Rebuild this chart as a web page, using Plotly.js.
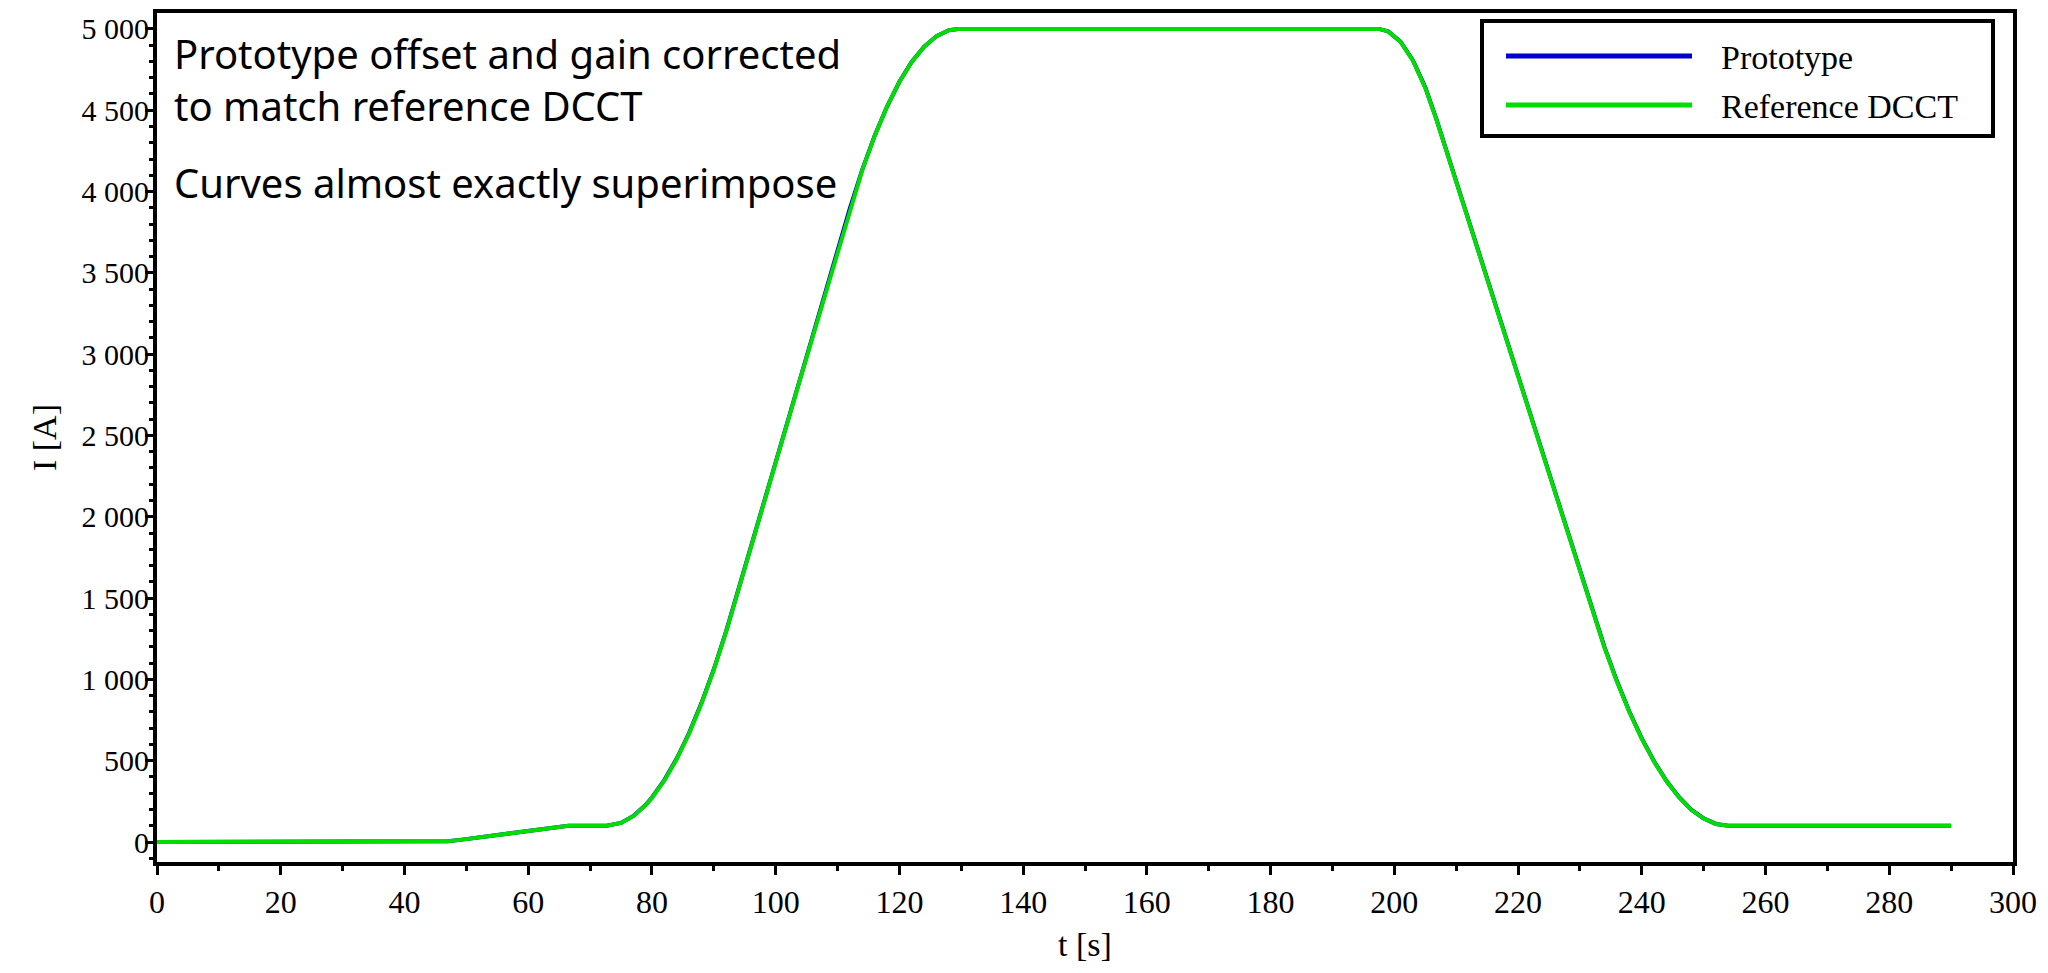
<!DOCTYPE html>
<html>
<head>
<meta charset="utf-8">
<script src="https://cdn.plot.ly/plotly-3.0.1.min.js"></script>
<style>
  html, body { margin: 0; padding: 0; background: #ffffff; }
  #chart { width: 2048px; height: 973px; }
</style>
</head>
<body>
<div id="chart"></div>
<script>
// Time base of the current cycle [s]
const timeS = [0, 10, 20, 30, 40, 45, 47, 49, 51, 53, 55, 57, 59, 61, 63, 64.5, 65.5, 66.5,
  72.7, 75, 77, 79, 80, 82, 84, 86, 88, 90, 92, 93, 94, 96, 98, 100, 102, 104, 106, 108, 110,
  111.5, 112, 114, 116, 118, 120, 122, 124, 126, 128, 129.5,
  140, 150, 160, 170, 180, 190,
  197.5, 199, 201, 203, 205, 206.8, 210, 214, 218, 222, 226, 230,
  232, 234, 236, 238, 240, 242, 244, 246, 248, 250, 252, 254, 260, 270, 280, 290];

// Reference DCCT reading [A]
const referenceA = [0, 0, 0, 0, 0, 0, 5, 13, 23, 33, 43, 54, 64, 74, 84, 92, 97, 100,
  100, 117, 159, 227, 271, 377, 509, 666, 850, 1058, 1293, 1421, 1551, 1811, 2071, 2331, 2591, 2851, 3111, 3371, 3631,
  3826, 3894, 4132, 4342, 4522, 4674, 4797, 4891, 4956, 4992, 5000,
  5000, 5000, 5000, 5000, 5000, 5000,
  5000, 4985, 4921, 4805, 4637, 4442, 4058, 3578, 3098, 2618, 2138, 1658,
  1418, 1191, 984, 798, 634, 493, 373, 275, 198, 144, 111, 100, 100, 100, 100, 100];

// Prototype reading after offset and gain correction [A]
const prototypeA = [0, 0, 0, 0, 0, 0, 5, 13, 23, 33, 43, 54, 64, 74, 84, 92, 97, 100,
  100, 117, 160, 229, 274, 381, 513, 670, 854, 1062, 1297, 1425, 1555, 1815, 2075, 2335, 2595, 2855, 3115, 3375, 3635,
  3830, 3898, 4135, 4344, 4523, 4675, 4798, 4891, 4956, 4992, 5000,
  5000, 5000, 5000, 5000, 5000, 5000,
  5000, 4985, 4922, 4808, 4641, 4446, 4062, 3582, 3102, 2622, 2142, 1662,
  1422, 1195, 988, 801, 637, 495, 375, 277, 199, 145, 111, 100, 100, 100, 100, 100];

const seriesNames = ['Prototype', 'Reference DCCT'];
const seriesColors = ['#0000cc', '#00dd00'];

const noteLines = ['Prototype offset and gain corrected', 'to match reference DCCT', 'Curves almost exactly superimpose'];

const serif = 'Liberation Serif, Times New Roman, serif';
const sans = 'Noto Sans, Roboto, sans-serif';

const traces = [
  { x: timeS, y: prototypeA, name: seriesNames[0], type: 'scatter', mode: 'lines',
    line: { color: seriesColors[0], width: 4 }, showlegend: false },
  { x: timeS, y: referenceA, name: seriesNames[1], type: 'scatter', mode: 'lines',
    line: { color: seriesColors[1], width: 4 }, showlegend: false }
];

// Plot area in pixels, used to place the boxed legend and the note
const W = 2048, H = 973;
const M = { l: 157, r: 35, t: 13, b: 111 };
const pw = W - M.l - M.r, ph = H - M.t - M.b;
const px = x => (x - M.l) / pw;
const py = y => (H - M.b - y) / ph;

const shapes = [
  { type: 'rect', xref: 'paper', yref: 'paper', x0: px(1482), x1: px(1993), y0: py(136), y1: py(21),
    line: { color: '#000', width: 4 }, fillcolor: 'rgba(255,255,255,0)' },
  { type: 'line', xref: 'paper', yref: 'paper', x0: px(1506), x1: px(1692), y0: py(56), y1: py(56),
    line: { color: seriesColors[0], width: 5 } },
  { type: 'line', xref: 'paper', yref: 'paper', x0: px(1506), x1: px(1692), y0: py(105), y1: py(105),
    line: { color: seriesColors[1], width: 5 } }
];

const noteFont = { family: sans, size: 40, color: '#000' };
const legendFont = { family: serif, size: 34, color: '#000' };

const annotations = [
  { xref: 'paper', yref: 'paper', x: px(172), y: py(79), xanchor: 'left', yanchor: 'middle', align: 'left',
    text: noteLines[0] + '<br>' + noteLines[1], showarrow: false, font: noteFont },
  { xref: 'paper', yref: 'paper', x: px(172), y: py(183), xanchor: 'left', yanchor: 'middle',
    text: noteLines[2], showarrow: false, font: noteFont },
  { xref: 'paper', yref: 'paper', x: px(1719), y: py(57), xanchor: 'left', yanchor: 'middle',
    text: seriesNames[0], showarrow: false, font: legendFont },
  { xref: 'paper', yref: 'paper', x: px(1719), y: py(106), xanchor: 'left', yanchor: 'middle',
    text: seriesNames[1], showarrow: false, font: legendFont }
];

const layout = {
  width: W, height: H,
  margin: M,
  paper_bgcolor: '#ffffff', plot_bgcolor: '#ffffff',
  separators: '. ',
  showlegend: false,
  xaxis: {
    range: [0, 300], tick0: 0, dtick: 20,
    showgrid: false, zeroline: false,
    showline: true, mirror: true, linecolor: '#000', linewidth: 4,
    ticks: 'outside', ticklen: 9, tickwidth: 3, tickcolor: '#000',
    minor: { dtick: 10, ticks: 'outside', ticklen: 5, tickwidth: 3, tickcolor: '#000', showgrid: false },
    tickfont: { family: serif, size: 32, color: '#000' },
    title: { text: 't [s]', font: { family: serif, size: 34, color: '#000' }, standoff: 14 },
    automargin: false
  },
  yaxis: {
    range: [-123, 5098], tick0: 0, dtick: 500, tickformat: ',d',
    showgrid: false, zeroline: false,
    showline: true, mirror: true, linecolor: '#000', linewidth: 4,
    ticks: 'outside', ticklen: 8, tickwidth: 3, tickcolor: '#000',
    ticklabelstandoff: -10,
    minor: { dtick: 100, ticks: 'outside', ticklen: 4, tickwidth: 3, tickcolor: '#000', showgrid: false },
    tickfont: { family: serif, size: 30, color: '#000' },
    title: { text: 'I [A]', font: { family: serif, size: 34, color: '#000' }, standoff: 16 },
    automargin: false
  },
  shapes: shapes,
  annotations: annotations
};

Plotly.newPlot('chart', traces, layout, { displayModeBar: false, staticPlot: true });
</script>
</body>
</html>
